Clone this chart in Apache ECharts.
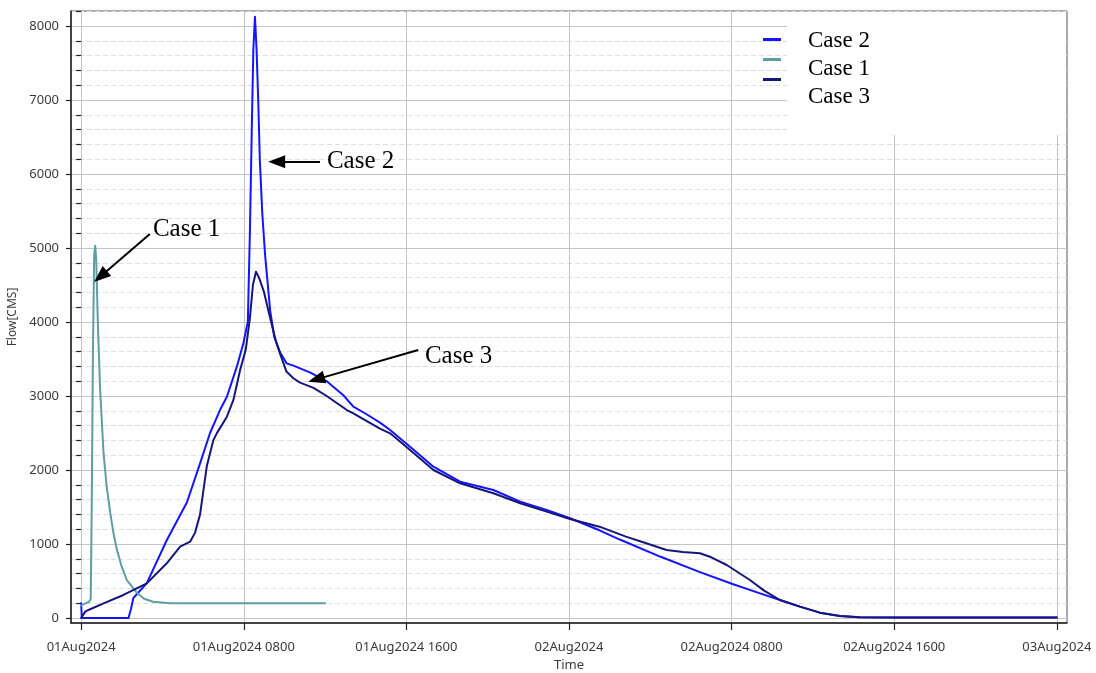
<!DOCTYPE html>
<html><head><meta charset="utf-8">
<script src="https://cdn.jsdelivr.net/npm/echarts@6/dist/echarts.min.js"></script>
<style>html,body{margin:0;padding:0;background:#fff}#c{width:1096px;height:673px}</style>
</head><body><div id="c"></div>
<script>
// ---- data (x in hours from 01Aug2024 00:00, y = Flow [CMS]) ----
const xTickHours = [0, 8, 16, 24, 32, 40, 48];
const xTickLabels = ['01Aug2024', '01Aug2024 0800', '01Aug2024 1600', '02Aug2024', '02Aug2024 0800', '02Aug2024 1600', '03Aug2024'];
const yMajorTicks = [0, 1000, 2000, 3000, 4000, 5000, 6000, 7000, 8000];
const yMinorTicks = [200, 400, 600, 800, 1200, 1400, 1600, 1800, 2200, 2400, 2600, 2800, 3200, 3400, 3600, 3800, 4200, 4400, 4600, 4800, 5200, 5400, 5600, 5800, 6200, 6400, 6600, 6800, 7200, 7400, 7600, 7800, 8200];

const seriesNames = ['Case 2', 'Case 1', 'Case 3'];

const case2Hours = [0, 0.03, 2.33, 2.45, 2.57, 3.23, 4.21, 5.2, 5.85, 6.34, 6.83, 7.17, 7.66, 7.98, 8.2, 8.3, 8.39, 8.47, 8.55, 8.63, 8.71, 8.79, 8.91, 9.05, 9.3, 9.5, 9.8, 10.11, 10.44, 10.77, 11.25, 12.08, 12.9, 13.39, 14.0, 14.7, 15.2, 16.18, 17.33, 18.64, 20.28, 21.6, 22.9, 24.05, 25.5, 26.5, 28.48, 30.44, 32.08, 33.4, 34.38, 35.36, 36.34, 37.33, 38.3, 40, 44, 48];
const case2Flow = [200, 0, 0, 120, 270, 470, 1050, 1560, 2090, 2500, 2810, 2990, 3396, 3712, 4005, 5200, 6550, 7675, 8125, 7675, 7000, 6190, 5470, 4900, 4150, 3800, 3580, 3441, 3410, 3374, 3320, 3200, 3010, 2856, 2760, 2640, 2540, 2315, 2045, 1842, 1730, 1572, 1460, 1347, 1185, 1060, 830, 620, 455, 333, 243, 153, 72, 27, 9, 8, 8, 8];

const case1Hours = [0, 0.05, 0.4, 0.47, 0.52, 0.58, 0.64, 0.69, 0.74, 0.82, 0.93, 1.1, 1.25, 1.43, 1.6, 1.76, 2.0, 2.25, 2.74, 3.1, 3.54, 4.38, 12.0];
const case1Flow = [170, 190, 220, 260, 1500, 3600, 4900, 5030, 4850, 4000, 3100, 2230, 1790, 1420, 1130, 920, 690, 510, 340, 260, 220, 200, 200];

const case3Hours = [0, 0.2, 0.36, 1.1, 2.08, 3.23, 4.21, 4.87, 5.36, 5.6, 5.85, 6.18, 6.5, 6.67, 7.17, 7.49, 7.82, 8.1, 8.3, 8.45, 8.6, 8.75, 9.0, 9.3, 9.6, 9.8, 10.1, 10.44, 10.77, 11.43, 12.08, 13.07, 13.39, 14.7, 15.2, 16.18, 17.33, 18.64, 20.28, 21.6, 22.9, 24.05, 25.5, 26.8, 27.8, 28.8, 29.6, 30.44, 31.0, 31.76, 32.9, 33.6, 34.38, 35.36, 36.34, 37.33, 38.3, 40, 44, 48];
const case3Flow = [0, 86, 108, 198, 311, 468, 739, 964, 1031, 1150, 1400, 2050, 2400, 2495, 2720, 2946, 3350, 3630, 4050, 4500, 4680, 4600, 4400, 4050, 3720, 3560, 3330, 3240, 3180, 3110, 3000, 2810, 2766, 2560, 2495, 2270, 2000, 1820, 1685, 1550, 1437, 1338, 1234, 1099, 1009, 919, 890, 874, 820, 716, 513, 370, 243, 153, 72, 27, 9, 8, 8, 8];

// annotations (data coordinates); arrow head centres sit just behind the tips
const annotLabels = ['Case 1', 'Case 2', 'Case 3'];
const annotTextAt = [[3.53, 5257], [12.09, 6169], [16.91, 3534]];
const arrowFrom = [[3.38, 5189], [11.75, 6166], [16.58, 3622]];
const arrowTo = [[0.95, 4615], [9.62, 6166], [11.57, 3224]];

// ---- build ----
const zip = (xs, ys) => xs.map((x, i) => [x, ys[i]]);
const colors = { 'Case 2': '#1414ff', 'Case 1': '#5f9ea0', 'Case 3': '#16167a' };
const seriesData = { 'Case 2': zip(case2Hours, case2Flow), 'Case 1': zip(case1Hours, case1Flow), 'Case 3': zip(case3Hours, case3Flow) };

const labelFont = { fontFamily: 'Noto Sans', fontSize: 13, color: '#3a3a3a' };
const serif = 'Liberation Serif';

const chart = echarts.init(document.getElementById('c'), null, { renderer: 'canvas' });
const option = {
  animation: false,
  backgroundColor: '#fff',
  grid: { left: 71, right: 29, top: 11, bottom: 50, show: true, borderColor: '#555', borderWidth: 1, containLabel: false, outerBoundsMode: 'none' },
  legend: {
    data: seriesNames, orient: 'vertical', left: 763, top: 38, padding: 0,
    icon: 'rect', itemWidth: 18, itemHeight: 3, itemGap: 17,
    formatter: () => '', textStyle: { fontSize: 1 }, selectedMode: false
  },
  xAxis: {
    type: 'value', min: -0.5, max: 48.5,
    name: 'Time', nameLocation: 'middle', nameGap: 36,
    nameTextStyle: { fontFamily: 'Noto Sans', fontSize: 13, color: '#3a3a3a' },
    axisLine: { show: true, onZero: false, lineStyle: { color: '#222', width: 1.5 } },
    axisTick: { show: true, customValues: xTickHours, length: 7, lineStyle: { color: '#222', width: 1.2 } },
    axisLabel: Object.assign({ customValues: xTickHours, margin: 18,
      formatter: v => { const i = xTickHours.indexOf(v); return i >= 0 ? xTickLabels[i] : ''; } }, labelFont),
    splitLine: { show: true, lineStyle: { color: '#c4c4c4', width: 1 } }
  },
  yAxis: [{
    type: 'value', min: -68, max: 8203, position: 'left', offset: 0,
    name: 'Flow[CMS]', nameLocation: 'middle', nameGap: 46, nameRotate: 90,
    nameTextStyle: { fontFamily: 'Noto Sans', fontSize: 12, color: '#3a3a3a' },
    axisLine: { show: true, onZero: false, lineStyle: { color: '#222', width: 1.5 } },
    axisTick: { show: true, customValues: yMajorTicks, length: 5, lineStyle: { color: '#222', width: 1.2 } },
    axisLabel: Object.assign({ customValues: yMajorTicks, margin: 12, formatter: v => String(v) }, labelFont),
    splitLine: { show: true, lineStyle: { color: '#c4c4c4', width: 1 } }
  }, {
    type: 'value', min: -68, max: 8203, position: 'left', offset: 0,
    axisLine: { show: false },
    axisTick: { show: true, customValues: yMinorTicks, length: 5, lineStyle: { color: '#222', width: 1.2 } },
    axisLabel: { show: false },
    splitLine: { show: true, lineStyle: { color: '#dedede', width: 1, type: [5, 3] } }
  }],
  graphic: {
    elements: [
      { type: 'rect', left: 787, top: 12, shape: { width: 279, height: 123 }, style: { fill: '#fff' }, z: 1, silent: true },
      { type: 'text', left: 808, top: 29, z: 10, style: { text: 'Case 2', font: '23px "Liberation Serif"', fill: '#000' } },
      { type: 'text', left: 808, top: 57, z: 10, style: { text: 'Case 1', font: '23px "Liberation Serif"', fill: '#000' } },
      { type: 'text', left: 808, top: 85, z: 10, style: { text: 'Case 3', font: '23px "Liberation Serif"', fill: '#000' } }
    ]
  },
  series: seriesNames.map(n => ({
    name: n, type: 'line', data: seriesData[n], showSymbol: false, symbol: 'none',
    lineStyle: { width: 2, color: colors[n], join: 'round', cap: 'round' }, itemStyle: { color: colors[n] },
    emphasis: { disabled: true }, z: 3
  })).concat([{
    name: 'annotations', type: 'scatter', symbolSize: 0, z: 5, silent: true,
    itemStyle: { opacity: 1 },
    data: annotTextAt.map((p, i) => ({ name: annotLabels[i], value: p })),
    label: { show: true, position: 'right', distance: 0, formatter: '{b}', fontFamily: serif, fontSize: 25, color: '#000', opacity: 1 },
    markLine: {
      silent: true, animation: false, symbol: ['none', 'triangle'], symbolSize: [13, 17],
      label: { show: false },
      lineStyle: { color: '#000', width: 2, type: 'solid', opacity: 1 },
      itemStyle: { color: '#000' },
      emphasis: { disabled: true },
      data: arrowFrom.map((p, i) => [{ coord: p }, { coord: arrowTo[i] }])
    }
  }])
};
chart.setOption(option);
</script>
</body></html>
